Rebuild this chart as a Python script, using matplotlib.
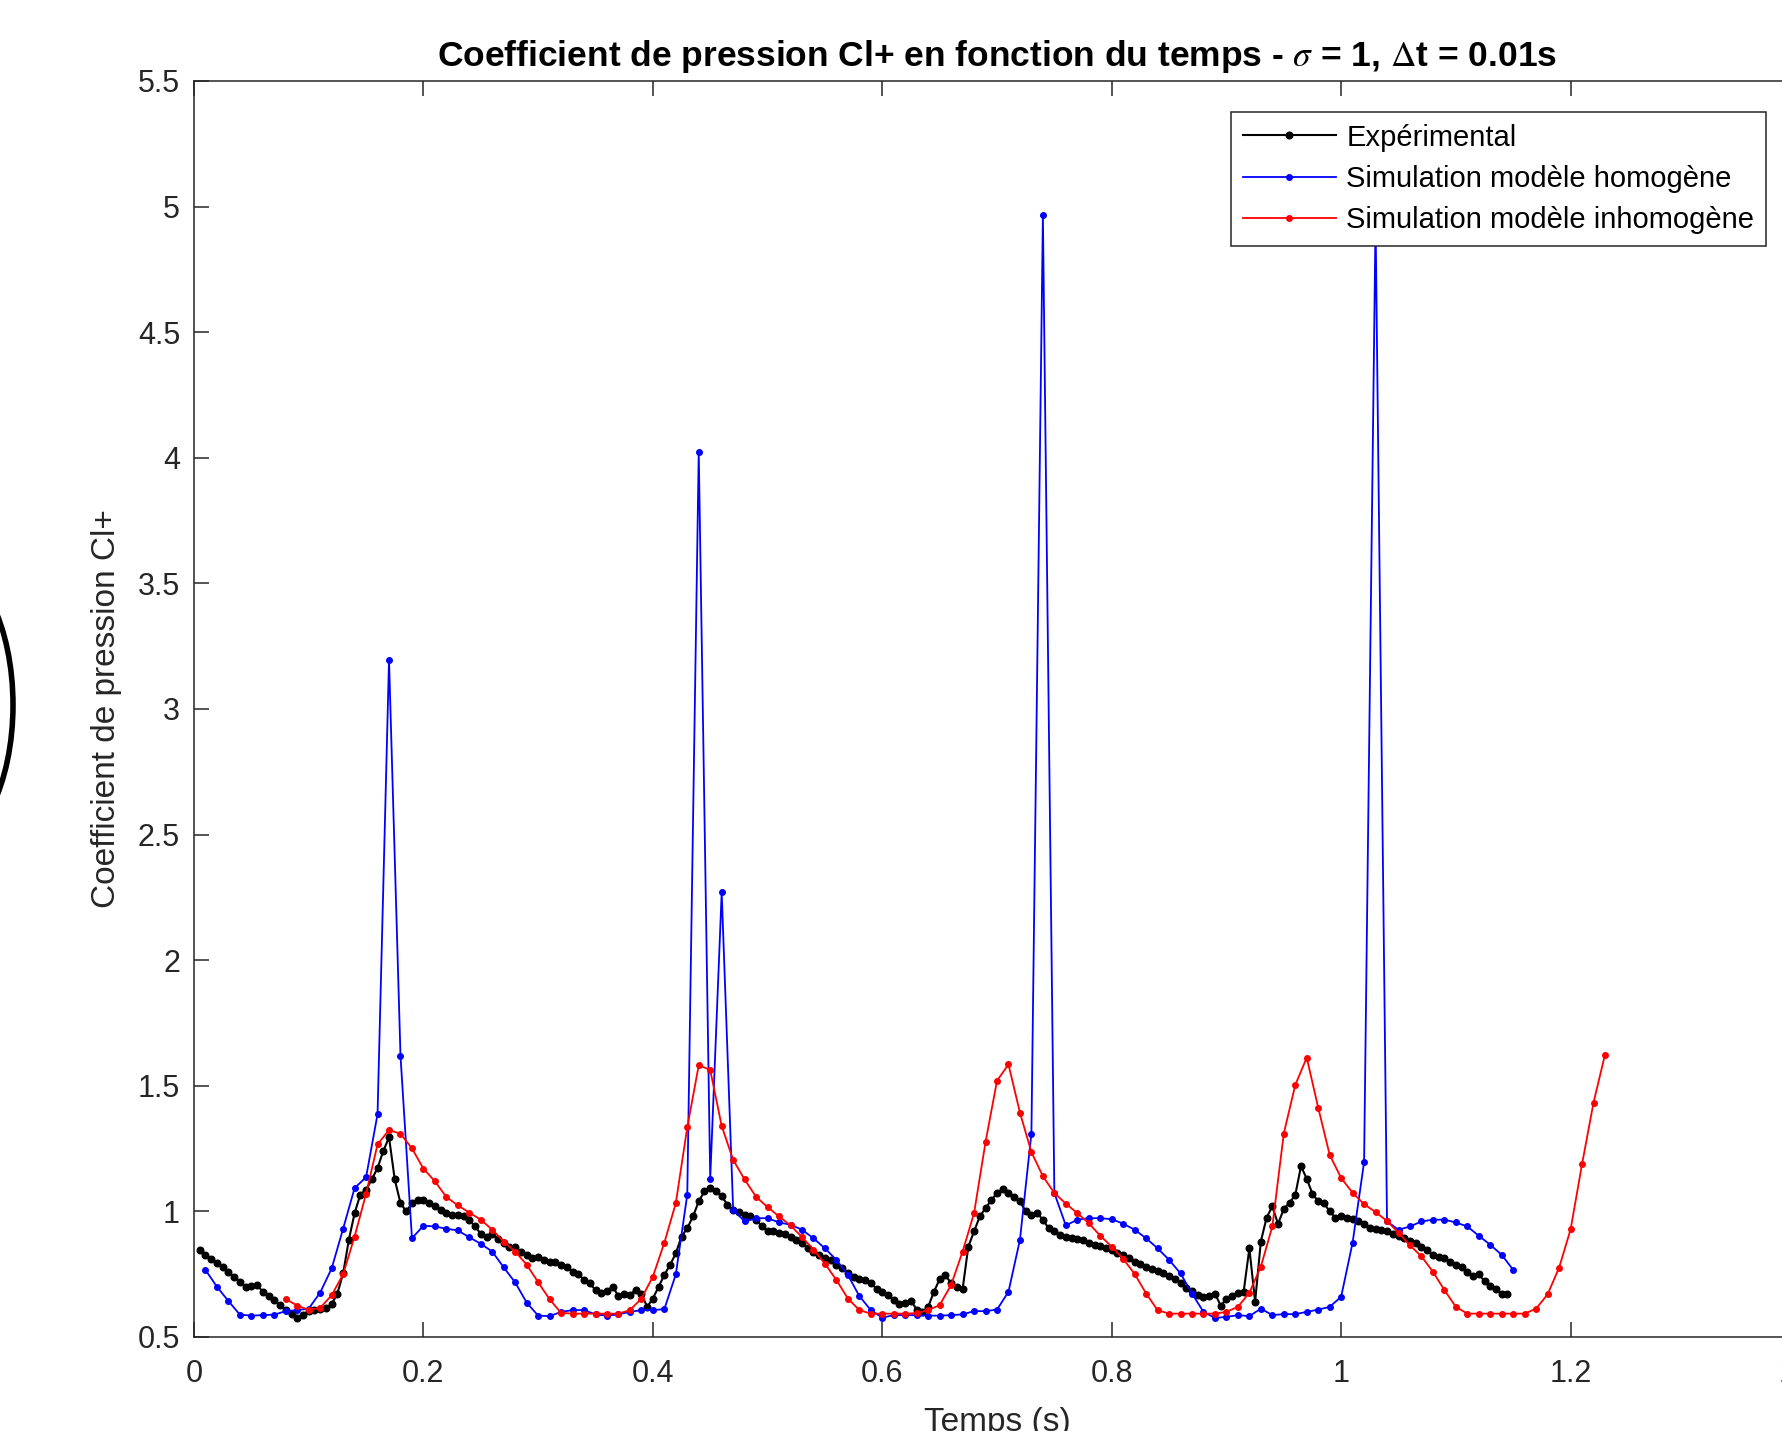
#!/usr/bin/env python3
# Cl+ pressure coefficient vs time: experiment vs homogeneous / inhomogeneous model
import numpy as np
import matplotlib; matplotlib.use("Agg")
import matplotlib.pyplot as plt
from matplotlib.patches import Ellipse

# experimental trace, sampled every 5 ms from t = 0.005 s
T0_EXP, DT_EXP = 0.005, 0.005
cp_exp = [
    0.847, 0.827, 0.809, 0.793, 0.777, 0.757, 0.740, 0.720, 0.700, 0.703,
    0.707, 0.680, 0.663, 0.647, 0.627, 0.607, 0.593, 0.577, 0.587, 0.604,
    0.609, 0.613, 0.616, 0.631, 0.673, 0.753, 0.887, 0.993, 1.067, 1.087,
    1.127, 1.173, 1.240, 1.295, 1.127, 1.033, 1.000, 1.033, 1.047, 1.044,
    1.033, 1.023, 1.004, 0.993, 0.987, 0.987, 0.980, 0.967, 0.940, 0.911,
    0.900, 0.911, 0.889, 0.873, 0.860, 0.860, 0.840, 0.827, 0.813, 0.820,
    0.807, 0.800, 0.800, 0.787, 0.777, 0.760, 0.751, 0.727, 0.713, 0.687,
    0.676, 0.684, 0.700, 0.663, 0.673, 0.667, 0.689, 0.673, 0.620, 0.653,
    0.700, 0.747, 0.787, 0.833, 0.900, 0.933, 0.980, 1.040, 1.080, 1.093,
    1.080, 1.060, 1.027, 1.007, 0.996, 0.987, 0.980, 0.967, 0.940, 0.920,
    0.920, 0.913, 0.911, 0.900, 0.887, 0.873, 0.853, 0.840, 0.827, 0.813,
    0.807, 0.787, 0.773, 0.756, 0.740, 0.729, 0.727, 0.713, 0.693, 0.680,
    0.667, 0.647, 0.631, 0.636, 0.645, 0.609, 0.600, 0.620, 0.680, 0.730,
    0.745, 0.715, 0.700, 0.690, 0.860, 0.920, 0.980, 1.013, 1.044, 1.073,
    1.089, 1.073, 1.057, 1.040, 1.000, 0.987, 0.993, 0.967, 0.933, 0.920,
    0.907, 0.900, 0.893, 0.889, 0.887, 0.876, 0.867, 0.863, 0.853, 0.847,
    0.836, 0.827, 0.816, 0.800, 0.791, 0.780, 0.772, 0.764, 0.753, 0.743,
    0.732, 0.716, 0.697, 0.683, 0.667, 0.660, 0.665, 0.673, 0.625, 0.650,
    0.665, 0.675, 0.680, 0.853, 0.640, 0.880, 0.975, 1.020, 0.950, 1.010,
    1.035, 1.065, 1.180, 1.130, 1.070, 1.040, 1.033, 1.000, 0.975, 0.983,
    0.975, 0.970, 0.960, 0.948, 0.935, 0.930, 0.926, 0.920, 0.912, 0.902,
    0.893, 0.883, 0.873, 0.858, 0.845, 0.826, 0.820, 0.815, 0.800, 0.788,
    0.778, 0.760, 0.742, 0.750, 0.722, 0.705, 0.690, 0.672, 0.670,
]

# simulations, dt = 0.01 s
T0_HOM, T0_INH, DT_SIM = 0.01, 0.08, 0.01
cp_hom = [
    0.767, 0.700, 0.643, 0.589, 0.585, 0.587, 0.589, 0.603, 0.607, 0.613,
    0.677, 0.773, 0.931, 1.093, 1.136, 1.387, 3.195, 1.620, 0.893, 0.943,
    0.940, 0.931, 0.924, 0.897, 0.871, 0.840, 0.777, 0.717, 0.637, 0.585,
    0.583, 0.600, 0.607, 0.607, 0.590, 0.585, 0.590, 0.600, 0.607, 0.607,
    0.611, 0.749, 1.067, 4.025, 1.130, 2.270, 1.007, 0.960, 0.973, 0.973,
    0.956, 0.947, 0.927, 0.893, 0.853, 0.807, 0.747, 0.663, 0.607, 0.577,
    0.587, 0.587, 0.587, 0.585, 0.585, 0.587, 0.590, 0.603, 0.603, 0.609,
    0.680, 0.887, 1.310, 4.965, 1.073, 0.944, 0.967, 0.973, 0.973, 0.969,
    0.951, 0.927, 0.893, 0.853, 0.807, 0.753, 0.673, 0.600, 0.576, 0.580,
    0.587, 0.583, 0.613, 0.587, 0.591, 0.591, 0.600, 0.609, 0.620, 0.660,
    0.876, 1.196, 4.950, 0.960, 0.927, 0.940, 0.960, 0.967, 0.967, 0.956,
    0.940, 0.903, 0.867, 0.827, 0.767,
]
cp_inh = [
    0.651, 0.625, 0.608, 0.616, 0.666, 0.750, 0.900, 1.070, 1.267, 1.324,
    1.309, 1.251, 1.170, 1.120, 1.057, 1.024, 0.995, 0.967, 0.927, 0.880,
    0.840, 0.788, 0.718, 0.650, 0.596, 0.593, 0.593, 0.593, 0.593, 0.593,
    0.607, 0.653, 0.740, 0.875, 1.033, 1.335, 1.582, 1.563, 1.340, 1.205,
    1.127, 1.058, 1.017, 0.980, 0.944, 0.898, 0.848, 0.792, 0.727, 0.653,
    0.607, 0.593, 0.593, 0.593, 0.593, 0.595, 0.607, 0.627, 0.707, 0.840,
    0.993, 1.276, 1.520, 1.585, 1.393, 1.236, 1.140, 1.073, 1.031, 0.993,
    0.953, 0.903, 0.860, 0.811, 0.751, 0.673, 0.607, 0.593, 0.593, 0.593,
    0.593, 0.593, 0.600, 0.620, 0.676, 0.780, 0.940, 1.310, 1.503, 1.612,
    1.413, 1.225, 1.133, 1.074, 1.029, 0.997, 0.962, 0.915, 0.865, 0.821,
    0.760, 0.687, 0.620, 0.593, 0.593, 0.593, 0.593, 0.593, 0.593, 0.613,
    0.670, 0.776, 0.928, 1.188, 1.433, 1.624,
]

xticks = [0, 0.2, 0.4, 0.6, 0.8, 1.0, 1.2, 1.4]
xticklabels = ["0", "0.2", "0.4", "0.6", "0.8", "1", "1.2", "1.4"]
yticks = [0.5, 1, 1.5, 2, 2.5, 3, 3.5, 4, 4.5, 5, 5.5]
yticklabels = ["0.5", "1", "1.5", "2", "2.5", "3", "3.5", "4", "4.5", "5", "5.5"]

t_exp = T0_EXP + DT_EXP * np.arange(len(cp_exp))
t_hom = T0_HOM + DT_SIM * np.arange(len(cp_hom))
t_inh = T0_INH + DT_SIM * np.arange(len(cp_inh))

plt.rcParams['font.family'] = ['Liberation Sans', 'DejaVu Sans']
plt.rcParams['mathtext.fontset'] = 'stix'
GREY = "#262626"

W, H = 1782, 1431
fig = plt.figure(figsize=(W / 100, H / 100), dpi=100)
# axes run from t=0 to 1.4 and are cut off at the right edge, as in the screenshot
ax = fig.add_axes([194 / W, 1 - 1337 / H, 1606 / W, 1256 / H])

kw = dict(marker=".", markersize=8, linewidth=1.3)
ax.plot(t_exp, cp_exp, color="k", label="Expérimental",
        marker=".", markersize=9.5, linewidth=1.5)
ax.plot(t_hom, cp_hom, color=(0, 0, 1), label="Simulation modèle homogène", **kw)
ax.plot(t_inh, cp_inh, color=(1, 0, 0), label="Simulation modèle inhomogène", **kw)

ax.set_xlim(0, 1.4); ax.set_ylim(0.5, 5.5)
ax.set_xticks(xticks); ax.set_xticklabels(xticklabels)
ax.set_yticks(yticks); ax.set_yticklabels(yticklabels)
ax.tick_params(direction="in", length=11, width=1.1, top=True, right=True,
               labelsize=22, color=GREY, labelcolor=GREY)
ax.tick_params(axis="x", pad=16)
ax.tick_params(axis="y", pad=10)
for s in ax.spines.values():
    s.set_color(GREY); s.set_linewidth(1.1)

ax.set_title(r"Coefficient de pression Cl+ en fonction du temps - $\sigma$ = 1, $\Delta$t = 0.01s",
             fontsize=25.5, fontweight="bold", pad=11)
ax.set_ylabel("Coefficient de pression Cl+", fontsize=24, color=GREY)
ax.yaxis.set_label_coords(-0.045, 0.5)
ax.set_xlabel("Temps (s)", fontsize=24, color=GREY)
ax.xaxis.set_label_coords(0.5, -0.056)

leg = ax.legend(loc="upper right", bbox_to_anchor=(1766 / W, 1 - 112 / H),
                bbox_transform=fig.transFigure, borderaxespad=0, fontsize=21,
                numpoints=1, handlelength=3.2, handletextpad=0.35, labelspacing=0.45,
                borderpad=0.4, fancybox=False, framealpha=1)
leg.get_frame().set_edgecolor(GREY); leg.get_frame().set_linewidth(1.1)

# bit of a bracket left over on the screenshot's left edge
fig.add_artist(Ellipse((-60 / W, 1 - 705 / H), 146 / W, 290 / H, transform=fig.transFigure,
                       fill=False, edgecolor="k", linewidth=4))

fig.savefig("out.png", dpi=100)
print("saved out.png")
